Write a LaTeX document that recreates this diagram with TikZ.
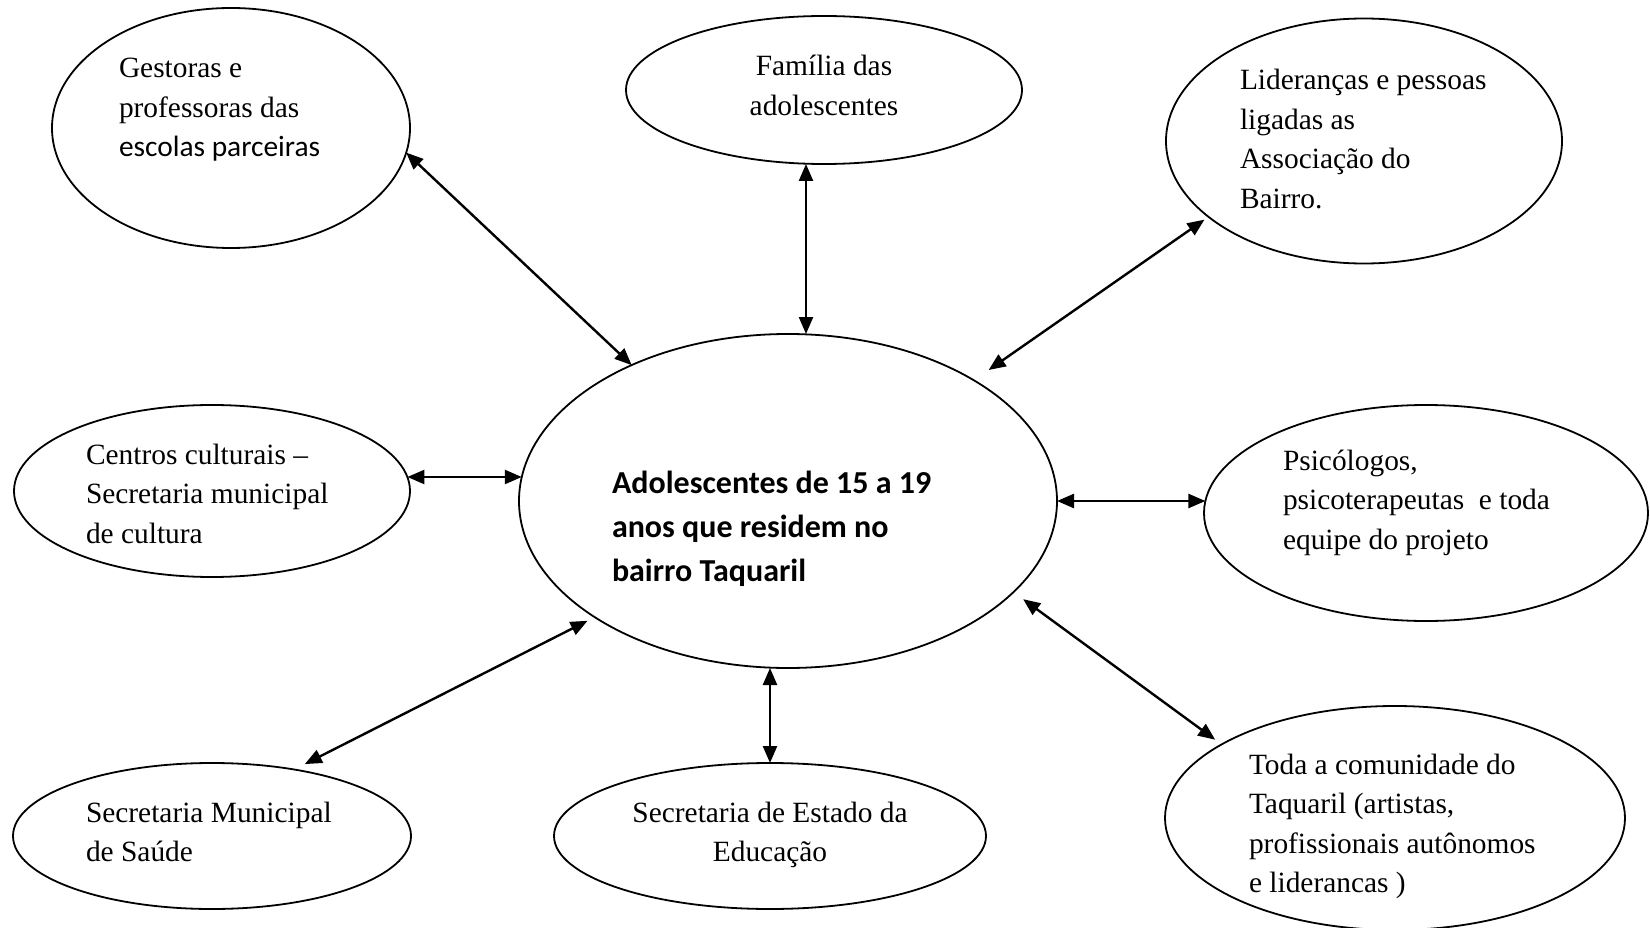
\documentclass[tikz,border=0pt]{standalone}
\usepackage{fontspec}
\setmainfont{Liberation Serif}
\newfontfamily\calibri{Carlito}
\usetikzlibrary{shapes.geometric,arrows.meta,calc}
\begin{document}
\begin{tikzpicture}[x=1pt,y=-1pt,
  ell/.style={draw, ellipse, line width=1.8pt, inner sep=0pt, outer sep=0pt},
  lbl/.style={inner sep=0pt, outer sep=0pt, anchor=base west, font={\fontsize{29.4pt}{39.5pt}\selectfont}},
  lblc/.style={inner sep=0pt, outer sep=0pt, anchor=base, font={\fontsize{29.4pt}{39.5pt}\selectfont}},
  lblb/.style={inner sep=0pt, outer sep=0pt, anchor=base west, font={\calibri\bfseries\fontsize{32pt}{44pt}\selectfont}},
  arr/.style={{Triangle[length=17pt,width=14pt]}-{Triangle[length=17pt,width=14pt]}, line width=2.4pt},
]
\useasboundingbox (0,0) rectangle (1650,928);

% ellipses
\node[ell, minimum width=358pt, minimum height=240pt] (n1) at (231,128) {};
\node[ell, minimum width=396pt, minimum height=148pt] (n2) at (824,90) {};
\node[ell, minimum width=396pt, minimum height=245pt] (n3) at (1364,141) {};
\node[ell, minimum width=396pt, minimum height=172pt] (n4) at (212,491) {};
\node[ell, minimum width=538pt, minimum height=334pt] (n5) at (788,501) {};
\node[ell, minimum width=444pt, minimum height=216pt] (n6) at (1426,513) {};
\node[ell, minimum width=398pt, minimum height=146pt] (n7) at (212,836) {};
\node[ell, minimum width=432pt, minimum height=146pt] (n8) at (770,836) {};
\node[ell, minimum width=460pt, minimum height=224pt] (n9) at (1395,818) {};

% texts
\node[lbl] (t1) at (119,78) {\begin{tabular}[t]{@{}l@{}}Gestoras e\\ professoras das\\ {\calibri escolas parceiras}\end{tabular}};
\node[lblc] (t2) at (824,76) {\begin{tabular}[t]{@{}c@{}}Família das\\ adolescentes\end{tabular}};
\node[lbl] (t3) at (1240,90) {\begin{tabular}[t]{@{}l@{}}Lideranças e pessoas\\ ligadas as\\ Associação do\\ Bairro.\end{tabular}};
\node[lbl] (t4) at (86,464) {\begin{tabular}[t]{@{}l@{}}Centros culturais --\\ Secretaria municipal\\ de cultura\end{tabular}};
\node[lblb] (t5) at (612,493) {\begin{tabular}[t]{@{}l@{}}Adolescentes de 15 a 19\\ anos que residem no\\ bairro Taquaril\end{tabular}};
\node[lbl] (t6) at (1283,470) {\begin{tabular}[t]{@{}l@{}}Psicólogos,\\ psicoterapeutas\ \ e toda\\ equipe do projeto\end{tabular}};
\node[lbl] (t7) at (86,822) {\begin{tabular}[t]{@{}l@{}}Secretaria Municipal\\ de Saúde\end{tabular}};
\node[lblc] (t8) at (770,822) {\begin{tabular}[t]{@{}c@{}}Secretaria de Estado da\\ Educação\end{tabular}};
\node[lbl] (t9) at (1249,774) {\begin{tabular}[t]{@{}l@{}}Toda a comunidade do\\ Taquaril (artistas,\\ profissionais autônomos\\ e liderancas )\end{tabular}};

% helper coordinates for straight connectors
\coordinate (xb) at (806,0);
\coordinate (xg) at (770,0);
\coordinate (yd) at (0,477);
\path (n4.east |- yd) coordinate (d1) (n5.west |- yd) coordinate (d2)
      (n6.west |- n5.east) coordinate (e2);

% connectors
\draw[arr] (n1.-8) -- (n5.139.5);
\draw[arr] (n2.south -| xb) -- (n5.north -| xb);
\draw[arr, shorten <=5pt, shorten >=18pt] (n3.206.6) -- (n5.33.8);
\draw[arr] ($(d1)+(-2.6,0)$) -- ($(d2)+(2.8,0)$);
\draw[arr] (n5.east) -- ($(e2)+(1.4,0)$);
\draw[arr, shorten <=8pt, shorten >=12pt] (n5.211.6) -- (n7.39.9);
\draw[arr] (n5.south -| xg) -- (n8.north);
\draw[arr, shorten <=12pt, shorten >=8pt] (n5.-22) -- (n9.157.7);
\end{tikzpicture}
\end{document}
